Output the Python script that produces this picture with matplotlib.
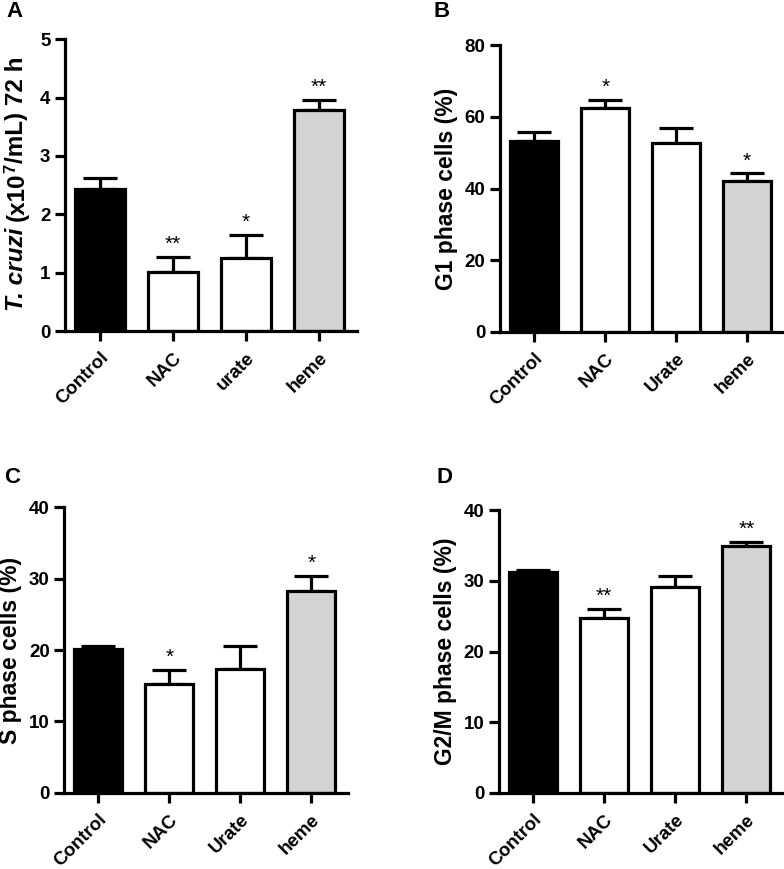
import matplotlib
matplotlib.use("Agg")
import matplotlib.pyplot as plt
import numpy as np

plt.rcParams['font.family'] = ['Liberation Sans', 'DejaVu Sans']

cats_A = ["Control", "NAC", "urate", "heme"]
cats = ["Control", "NAC", "Urate", "heme"]

vals_A = [2.43, 1.01, 1.25, 3.79]
err_A = [0.20, 0.26, 0.40, 0.17]
sig_A = ["", "**", "*", "**"]

vals_B = [53.3, 62.6, 52.6, 42.0]
err_B = [2.6, 2.2, 4.4, 2.3]
sig_B = ["", "*", "", "*"]

vals_C = [20.2, 15.3, 17.3, 28.3]
err_C = [0.4, 1.9, 3.2, 2.1]
sig_C = ["", "*", "", "*"]

vals_D = [31.2, 24.8, 29.1, 34.9]
err_D = [0.4, 1.2, 1.6, 0.6]
sig_D = ["", "**", "", "**"]

colors = ["black", "white", "white", "#d3d3d3"]

W, H = 784, 869
fig = plt.figure(figsize=(W / 100, H / 100), dpi=100)

panels = [
    ("A", [0.083, 0.619, 0.372, 0.336], cats_A, vals_A, err_A, sig_A, (0, 5), [0, 1, 2, 3, 4, 5], None),
    ("B", [0.638, 0.618, 0.362, 0.330], cats, vals_B, err_B, sig_B, (0, 80), [0, 20, 40, 60, 80], "G1 phase cells (%)"),
    ("C", [0.082, 0.0875, 0.362, 0.329], cats, vals_C, err_C, sig_C, (0, 40), [0, 10, 20, 30, 40], "S phase cells (%)"),
    ("D", [0.6365, 0.0875, 0.3625, 0.3255], cats, vals_D, err_D, sig_D, (0, 40), [0, 10, 20, 30, 40], "G2/M phase cells (%)"),
]

label_pos = {"A": (0.008, 0.999), "B": (0.553, 0.999), "C": (0.005, 0.463), "D": (0.557, 0.463)}

lw = 2.3
for name, rect, cl, v, e, s, ylim, yt, ylab in panels:
    ax = fig.add_axes(rect)
    x = np.arange(len(cl))
    ax.errorbar(x, v, yerr=[np.zeros(len(e)), e], fmt='none', ecolor='black',
                elinewidth=lw, capsize=12, capthick=lw, zorder=1)
    ax.bar(x, v, width=0.68, color=colors, edgecolor='black', linewidth=lw, zorder=2)
    for xi, vi, ei, si in zip(x, v, e, s):
        if si:
            ax.annotate(si, (xi, vi + ei), xytext=(0, 2), textcoords='offset points',
                        ha='center', va='bottom', fontsize=15, fontweight='normal')
    ax.set_xlim(-0.48, 3.52)
    ax.set_ylim(*ylim)
    ax.set_yticks(yt)
    ax.set_xticks(x)
    ax.set_xticklabels(cl, rotation=45, ha='right', rotation_mode='anchor',
                       fontsize=13.8, fontweight='bold')
    ax.tick_params(axis='both', width=lw, length=7, labelsize=13.5)
    ax.tick_params(axis='x', pad=6)
    for t in ax.get_yticklabels():
        t.set_fontweight('bold')
    for sp in ['top', 'right']:
        ax.spines[sp].set_visible(False)
    for sp in ['left', 'bottom']:
        ax.spines[sp].set_linewidth(lw)
    if ylab:
        ax.set_ylabel(ylab, fontsize=16.5, fontweight='bold', labelpad=5)
    fig.text(*label_pos[name], name, fontsize=16, fontweight='bold', va='top', ha='left')

# Panel A y-label built from pieces: italic species name, units with superscript
fig.canvas.draw()
renderer = fig.canvas.get_renderer()
fs_A = 17.5
xc = 17
pieces = [("T. cruzi ", 'italic', fs_A, 0),
          ("(x10", 'normal', fs_A, 0),
          ("7", 'normal', fs_A * 0.68, -6),
          ("/mL) 72 h", 'normal', fs_A, 0)]
texts = []
for txt, st, fs, dx in pieces:
    t = fig.text((xc + dx) / W, 0, txt, rotation=90, fontsize=fs, fontweight='bold',
                 style=st, ha='center', va='bottom')
    texts.append((t, dx))
# measure advance lengths along the vertical direction using ha-independent extents
lengths = []
for t, dx in texts:
    t.set_rotation(0)
    lengths.append(t.get_window_extent(renderer).width)
    t.set_rotation(90)
total = sum(lengths)
y_center = H - 184
y = y_center - total / 2
for (t, dx), L in zip(texts, lengths):
    t.set_position(((xc + dx) / W, y / H))
    y += L

fig.savefig("out.png", dpi=100)
